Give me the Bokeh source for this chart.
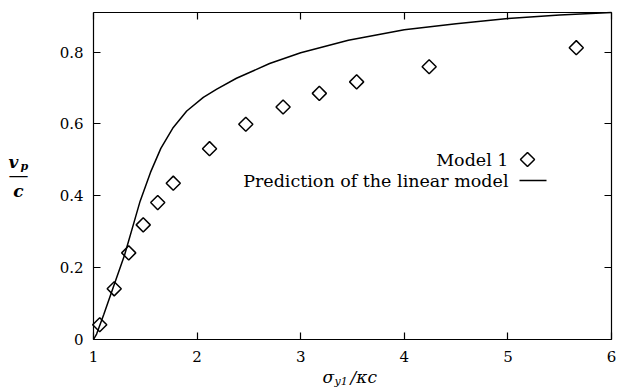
import numpy as np
from bokeh.plotting import figure
from bokeh.models import Range1d, LinearAxis, FixedTicker, Label
from bokeh.embed import file_html
from bokeh.resources import INLINE

# ---- data ----
model1_x = [1.06, 1.20, 1.34, 1.48, 1.62, 1.77, 2.12, 2.47, 2.83, 3.18, 3.54, 4.24, 5.66]
model1_y = [0.041, 0.141, 0.241, 0.319, 0.381, 0.435, 0.531, 0.599, 0.647, 0.685, 0.717, 0.759, 0.812]

linear_x = [1.00, 1.03, 1.10, 1.19, 1.30, 1.40, 1.45, 1.55, 1.65, 1.77, 1.90, 2.06, 2.19, 2.38,
            2.70, 3.00, 3.46, 4.00, 4.50, 5.00, 5.50, 6.00]
linear_y = [0.000, 0.015, 0.070, 0.145, 0.235, 0.335, 0.385, 0.465, 0.532, 0.590, 0.636, 0.674, 0.697, 0.727,
            0.768, 0.798, 0.833, 0.862, 0.879, 0.893, 0.903, 0.910]

x_ticks = [1, 2, 3, 4, 5, 6]
y_ticks = [0, 0.2, 0.4, 0.6, 0.8]
legend_labels = ["Model 1", "Prediction of the linear model"]

FONT = "DejaVu Serif"

# ---- layout geometry (page pixels); the frame spans the whole canvas ----
W, H = 617, 387
OX, OY = 0, 0                      # canvas origin on the page
FL, FR, FT, FB = 93, 611, 12, 339  # plot box on the page
X0, X1, Y0, Y1 = 1.0, 6.0, 0.0, 0.91

sx_per = (FR - FL) / (X1 - X0)
sy_per = (FB - FT) / (Y1 - Y0)
xr = Range1d(X0 - (FL - OX) / sx_per, X1 + (OX + W - FR) / sx_per)
yr = Range1d(Y0 - (OY + H - FB) / sy_per, Y1 + (FT - OY) / sy_per)

p = figure(width=W, height=H, output_backend="svg", toolbar_location=None,
           x_range=xr, y_range=yr, x_axis_location=None, y_axis_location=None,
           min_border=0)
p.grid.visible = False
p.outline_line_color = None
p.background_fill_color = "white"
p.border_fill_color = "white"


def make_axis(loc, bounds, ticks, show_labels, standoff=10):
    ax = LinearAxis(fixed_location=loc, bounds=bounds, ticker=FixedTicker(ticks=ticks),
                    major_tick_in=7, major_tick_out=0, major_tick_line_width=1.2,
                    minor_tick_line_color=None, axis_line_color="black",
                    axis_line_width=1.2, major_label_standoff=standoff,
                    major_label_text_font=FONT, major_label_text_font_size="15px",
                    major_label_text_color="black" if show_labels else None)
    return ax


p.add_layout(make_axis(Y0, (X0, X1), x_ticks, True, 11), "below")
p.add_layout(make_axis(X0, (Y0, Y1), y_ticks, True, 10), "left")
p.add_layout(make_axis(Y1, (X0, X1), x_ticks, False), "above")
p.add_layout(make_axis(X1, (Y0, Y1), y_ticks, False), "right")

# ---- data marks ----
p.line(linear_x, linear_y, line_color="black", line_width=1.5)
p.scatter(model1_x, model1_y, marker="square", angle=np.pi / 4, size=10,
          fill_color=None, line_color="black", line_width=1.5)


def dx(px):
    return X0 + (px - FL) / sx_per


def dy(py):
    return Y0 + (FB - py) / sy_per


def lab(px, py, text, size, align="left", style="normal"):
    p.add_layout(Label(x=px - OX, y=OY + H - py, x_units="screen", y_units="screen",
                       text=text, text_font=FONT, text_font_size=size,
                       text_font_style=style, text_align=align,
                       text_baseline="middle", text_color="black"))


# ---- legend (text on the left, key on the right) ----
lab(508, 159, legend_labels[0], "17.5px", align="right")
lab(508, 180, legend_labels[1], "17.5px", align="right")
p.scatter([dx(527)], [dy(159)], marker="square", angle=np.pi / 4, size=10,
          fill_color=None, line_color="black", line_width=1.5)
p.line([dx(519), dx(546)], [dy(180), dy(180)], line_color="black", line_width=1.5)

# ---- axis titles ----
# x: sigma_{y1} / kappa c
lab(322, 376, "σ", "17px", style="italic")
lab(334, 381, "y1", "11px", style="italic")
lab(350, 376, "/κc", "17px", style="italic")
# y: v_p over c
lab(8, 161, "v", "17px", style="bold italic")
lab(20, 166, "p", "11px", style="bold italic")
lab(18, 174, "—", "20px", align="center")
lab(18, 190, "c", "17px", align="center", style="bold italic")

open("out.html", "w").write(file_html(p, INLINE))
